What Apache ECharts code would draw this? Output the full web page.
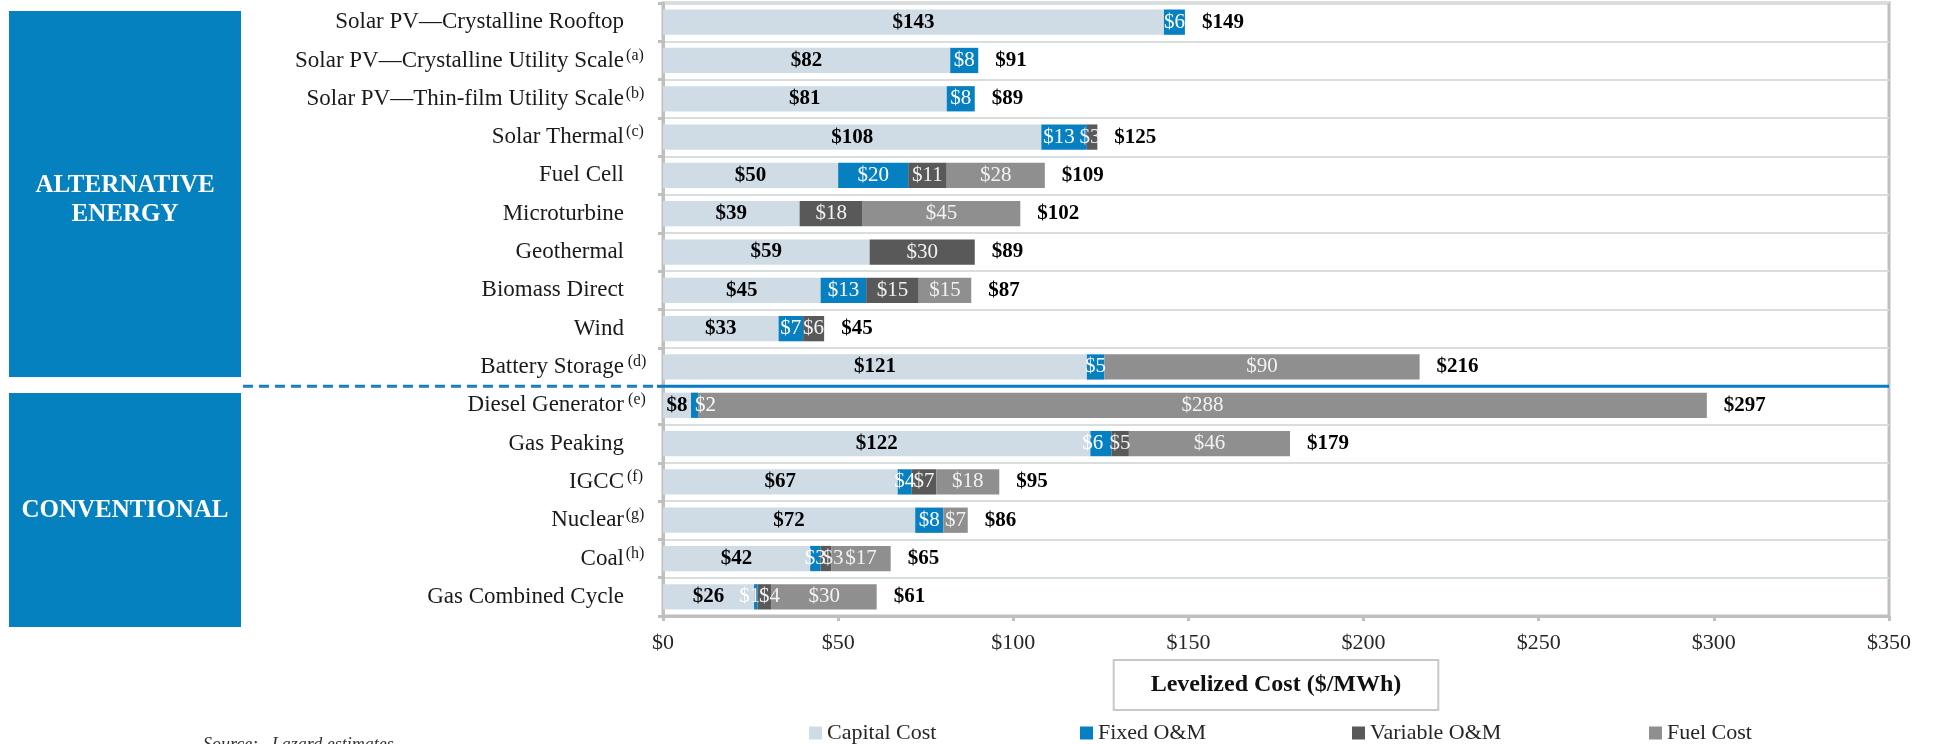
<!DOCTYPE html>
<html><head><meta charset="utf-8">
<script src="https://cdn.jsdelivr.net/npm/echarts@6/dist/echarts.min.js"></script>
<style>html,body{margin:0;padding:0;background:#fff;}#c{width:1933px;height:744px;}</style>
</head><body><div id="c"></div>
<script>
// ---- data ----
const categories = [
  'Solar PV—Crystalline Rooftop', 'Solar PV—Crystalline Utility Scale', 'Solar PV—Thin-film Utility Scale',
  'Solar Thermal', 'Fuel Cell', 'Microturbine', 'Geothermal', 'Biomass Direct', 'Wind', 'Battery Storage',
  'Diesel Generator', 'Gas Peaking', 'IGCC', 'Nuclear', 'Coal', 'Gas Combined Cycle'
];
const footnotes = ['', '(a)', '(b)', '(c)', '', '', '', '', '', ' (d)', ' (e)', '', '(f)', '(g)', '(h)', ''];
const capitalCost = [143, 82, 81, 108, 50, 39, 59, 45, 33, 121, 8, 122, 67, 72, 42, 26];
const fixedOM     = [6, 8, 8, 13, 20, 0, 0, 13, 7, 5, 2, 6, 4, 8, 3, 1];
const variableOM  = [0, 0, 0, 3, 11, 18, 30, 15, 6, 0, 0, 5, 7, 0, 3, 4];
const fuelCost    = [0, 0, 0, 0, 28, 45, 0, 15, 0, 90, 288, 46, 18, 7, 17, 30];
const totalCost   = [149, 91, 89, 125, 109, 102, 89, 87, 45, 216, 297, 179, 95, 86, 65, 61];
const seriesNames = ['Capital Cost', 'Fixed O&M', 'Variable O&M', 'Fuel Cost'];
const groupLabels = ['ALTERNATIVE\nENERGY', 'CONVENTIONAL'];
const axisTitle = 'Levelized Cost ($/MWh)';
const sourceNote = 'Source:   Lazard estimates.';

// ---- styling ----
const FONT = '"Liberation Serif", "DejaVu Serif", serif';
const COLORS = ['#cfdce6', '#0780c1', '#595959', '#8f8f8f'];
const BLUE = '#0681bf';
const GRID = {left: 663, top: 3, width: 1226, height: 613};
const sepY = GRID.top + 10 * GRID.height / categories.length;
// horizontal nudges (px) for crowded in-bar labels: {seriesIndex: {dataIndex: dx}}
const LABEL_NUDGE = {1: {3: -5, 10: 11, 11: -8, 15: -6}, 2: {3: -2, 14: 7, 15: 5}};

function seg(idx, data, labelColor, bold) {
  const nudge = LABEL_NUDGE[idx] || {};
  return {
    name: seriesNames[idx], type: 'bar', stack: 'cost', stackStrategy: 'all',
    data: data.map((v, i) => (nudge[i] ? {value: v, label: {offset: [nudge[i], 0]}} : v)),
    barCategoryGap: '34%',
    itemStyle: {color: COLORS[idx]},
    label: {
      show: true, position: 'inside', color: labelColor, fontSize: 21, fontFamily: FONT,
      fontWeight: bold ? 'bold' : 'normal',
      formatter: p => (p.value ? '$' + p.value : '')
    },
    emphasis: {disabled: true}
  };
}

const chart = echarts.init(document.getElementById('c'), null, {renderer: 'canvas'});
const legendLefts = [809, 1080, 1352, 1649];

chart.setOption({
  animation: false,
  textStyle: {fontFamily: FONT},
  grid: {left: GRID.left, top: GRID.top, width: GRID.width, height: GRID.height,
         show: true, borderColor: '#bfbfbf', borderWidth: 3, outerBoundsMode: 'none', containLabel: false},
  legend: seriesNames.map((n, i) => ({
    data: [{name: n, icon: 'rect'}], left: legendLefts[i], top: 722, padding: 0,
    itemWidth: 13, itemHeight: 13, selectedMode: false,
    textStyle: {fontSize: 22, fontFamily: FONT, color: '#262626'}
  })),
  xAxis: {
    type: 'value', min: 0, max: 350, interval: 50,
    axisLine: {show: true, lineStyle: {color: '#bfbfbf', width: 3}},
    axisTick: {show: true, length: 5, lineStyle: {color: '#bfbfbf', width: 3}},
    splitLine: {show: false},
    axisLabel: {formatter: v => '$' + v, fontSize: 22, fontFamily: FONT, color: '#262626', margin: 16},
    name: axisTitle, nameLocation: 'middle', nameGap: 38,
    nameTextStyle: {fontSize: 24, fontWeight: 'bold', fontFamily: FONT, color: '#111',
      borderColor: '#c8c8c8', borderWidth: 2, padding: [12, 36, 12, 36], backgroundColor: '#fff'}
  },
  yAxis: {
    type: 'category', inverse: true, data: categories,
    axisLine: {show: true, lineStyle: {color: '#bfbfbf', width: 3}},
    axisTick: {show: true, length: 5, lineStyle: {color: '#bfbfbf', width: 3}},
    splitLine: {show: true, lineStyle: {color: '#d8dddd', width: 2}},
    axisLabel: {
      margin: 17,
      formatter: (v, i) => '{n|' + v + '}{s|' + (footnotes[i] || ' ') + '}',
      rich: {
        n: {fontSize: 23, fontFamily: FONT, color: '#1a1a1a', lineHeight: 26},
        s: {fontSize: 16, fontFamily: FONT, color: '#1a1a1a', width: 22, align: 'left', verticalAlign: 'top', lineHeight: 16}
      }
    }
  },
  series: [
    seg(0, capitalCost, '#000', true),
    seg(1, fixedOM, '#fff', false),
    seg(2, variableOM, '#f2f2f2', false),
    seg(3, fuelCost, '#f2f2f2', false),
    {
      name: 'Total', type: 'bar', stack: 'cost', stackStrategy: 'all',
      data: categories.map(() => 0), itemStyle: {color: 'transparent'},
      emphasis: {disabled: true},
      label: {show: true, position: 'right', distance: 17, fontSize: 21, fontWeight: 'bold',
        fontFamily: FONT, color: '#000', formatter: p => '$' + totalCost[p.dataIndex]}
    }
  ],
  graphic: [
    {type: 'rect', shape: {x: 9, y: 11, width: 232, height: 366}, style: {fill: BLUE}, z: 10},
    {type: 'text', x: 125, y: 200, z: 11, style: {text: groupLabels[0], fill: '#fff',
      font: 'bold 25px ' + FONT, align: 'center', verticalAlign: 'middle', lineHeight: 29}},
    {type: 'rect', shape: {x: 9, y: 393, width: 232, height: 234}, style: {fill: BLUE}, z: 10},
    {type: 'text', x: 125, y: 511, z: 11, style: {text: groupLabels[1], fill: '#fff',
      font: 'bold 25px ' + FONT, align: 'center', verticalAlign: 'middle'}},
    {type: 'line', z: 20, shape: {x1: 243, y1: sepY, x2: GRID.left - 6, y2: sepY},
      style: {stroke: '#1a7fc6', lineWidth: 3, lineDash: [10, 6]}},
    {type: 'line', z: 20, shape: {x1: GRID.left - 6, y1: sepY, x2: GRID.left + GRID.width, y2: sepY},
      style: {stroke: '#0b7ac2', lineWidth: 3}},
    {type: 'text', x: 203, y: 736, z: 11, style: {text: sourceNote, fill: '#333',
      font: 'italic 18px ' + FONT, align: 'left', verticalAlign: 'top'}}
  ]
});
</script></body></html>
